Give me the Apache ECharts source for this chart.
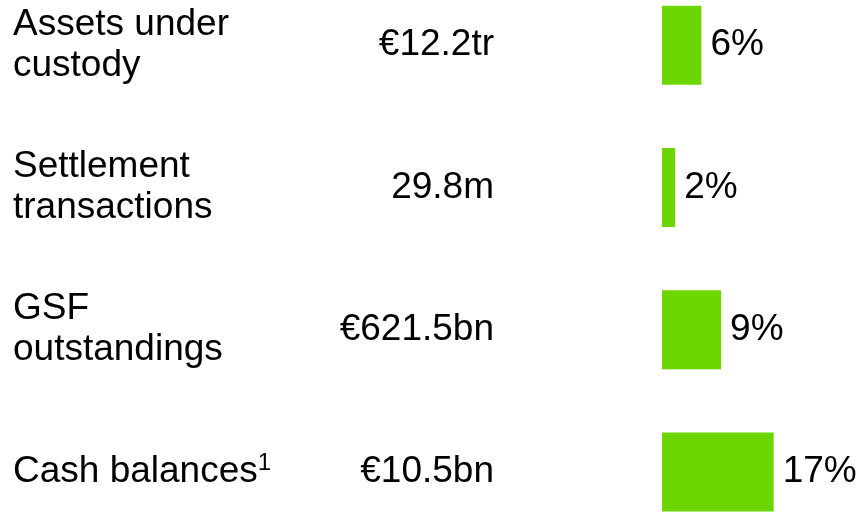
<!DOCTYPE html>
<html>
<head>
<meta charset="utf-8">
<script src="https://cdn.jsdelivr.net/npm/echarts@6/dist/echarts.min.js"></script>
<style>
  html, body { margin: 0; padding: 0; background: #fff; }
  #chart { width: 860px; height: 512px; }
</style>
</head>
<body>
<div id="chart"></div>
<script>
// row data, top to bottom
var names = ['Assets under\ncustody', 'Settlement\ntransactions', 'GSF\noutstandings', 'Cash balances']
var footnotes = ['', '', '', '1']
var amounts = ['€12.2tr', '29.8m', '€621.5bn', '€10.5bn']
var growth = [6, 2, 9, 17]

var chart = echarts.init(document.getElementById('chart'))

var font = 'Liberation Sans, Arial, sans-serif'

chart.setOption({
  animation: false,
  backgroundColor: '#ffffff',
  grid: {
    left: 662,
    width: 197,
    top: -26,
    height: 569,
    outerBoundsMode: 'none',
    containLabel: false
  },
  xAxis: {
    type: 'value',
    min: 0,
    max: 30,
    show: false
  },
  yAxis: [
    {
      // names, left aligned at the page edge
      type: 'category',
      data: names,
      inverse: true,
      axisLine: { show: false },
      axisTick: { show: false },
      axisLabel: {
        align: 'left',
        margin: 649,
        color: '#000',
        fontFamily: font,
        fontSize: 37,
        lineHeight: 41,
        formatter: function (v, i) {
          var f = footnotes[i]
          return f ? v + '{sup|' + f + '}' : v
        },
        rich: {
          sup: { fontSize: 24, fontFamily: font, color: '#000', verticalAlign: 'top', lineHeight: 24, padding: [0, 0, 14, 0] }
        }
      }
    },
    {
      // amounts, right aligned
      type: 'category',
      data: amounts,
      inverse: true,
      position: 'left',
      axisLine: { show: false },
      axisTick: { show: false },
      axisLabel: {
        align: 'right',
        margin: 168,
        color: '#000',
        fontFamily: font,
        fontSize: 37
      }
    }
  ],
  series: [
    {
      type: 'bar',
      data: growth,
      barWidth: 79,
      itemStyle: { color: '#6cd600' },
      label: {
        show: true,
        position: 'right',
        distance: 9,
        color: '#000',
        fontFamily: font,
        fontSize: 37,
        formatter: '{c}%'
      }
    }
  ]
})
</script>
</body>
</html>
